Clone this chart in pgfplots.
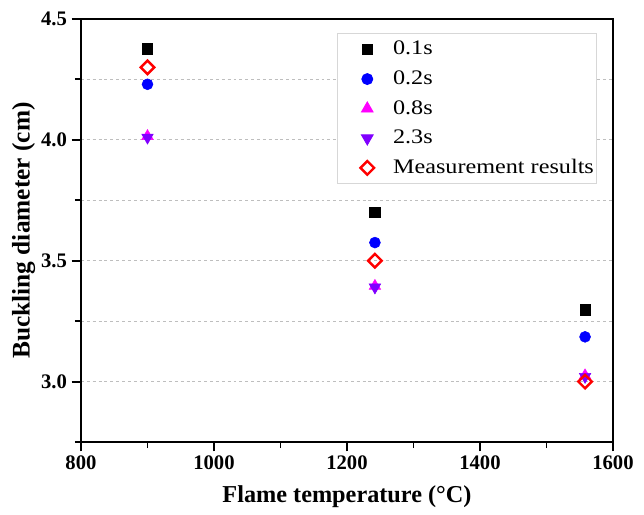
\documentclass[border=0pt]{standalone}
\usepackage{fontspec}
\setmainfont{Liberation Serif}
\newfontfamily\legserif[FakeStretch=1.17]{Liberation Serif}
\usepackage{pgfplots}
\pgfplotsset{compat=1.18}
\definecolor{violetc}{RGB}{128,0,255}
\definecolor{magc}{RGB}{255,0,255}
\definecolor{gridc}{RGB}{190,190,190}
\definecolor{legc}{RGB}{215,215,215}
\pgfplotsset{mylegimg/.style={legend image code/.code={\path (0pt,0pt) (39pt,0pt);\draw[mark repeat=2,mark phase=2,##1] plot coordinates {(0pt,0pt)(22pt,0pt)(39pt,0pt)};}}}
\begin{document}
\begin{tikzpicture}
\begin{axis}[
  scale only axis, width=399pt, height=317.25pt,
  clip=false,
  xmin=800, xmax=1600, ymin=2.75, ymax=4.5,
  xtick={800,1000,1200,1400,1600},
  minor xtick={900,1100,1300,1500},
  ytick={3.0,3.5,4.0,4.5},
  minor ytick={2.75,3.25,3.75,4.25},
  ymajorgrids, yminorgrids,
  major grid style={dash pattern=on 2.2pt off 2.2pt, gridc, line width=0.6pt},
  minor grid style={dash pattern=on 2.2pt off 2.2pt, gridc, line width=0.6pt},
  tick align=outside,
  major tick length=7pt, minor tick length=4.5pt,
  xtick pos=left, ytick pos=left,
  axis line style={black, line width=1.4pt},
  tick style={black, line width=1.4pt},
  /pgf/number format/assume math mode=true,
  yticklabel style={/pgf/number format/.cd, fixed, fixed zerofill, precision=1},
  xticklabel style={/pgf/number format/1000 sep={}},
  tick label style={font=\fontsize{15.5}{18}\selectfont\bfseries},
  xlabel={Flame temperature (°C)},
  ylabel={Buckling diameter (cm)},
  xlabel style={font=\fontsize{18.2}{21}\selectfont\bfseries, at={(rel axis cs:0.5,0)}, anchor=center, yshift=-41pt},
  ylabel style={font=\fontsize{19}{22}\selectfont\bfseries, at={(rel axis cs:0,0.5)}, anchor=center, yshift=43pt},
  legend cell align=left,
  legend style={at={(rel axis cs:1,1)}, anchor=north east, xshift=-12pt, yshift=-10.5pt,
    draw=legc, line width=0.7pt, inner xsep=0pt, inner ysep=5pt,
    font=\fontsize{15.5}{18}\legserif, row sep=8.2pt,
    nodes={inner ysep=0pt, text height=11pt, text depth=3pt}},
]
\pgfplotsinvokeforeach{800,1000,1200,1400,1600}{\draw[line width=1.4pt] (axis cs:#1,2.75) -- ++(0pt,-7pt);}
\pgfplotsinvokeforeach{900,1100,1300,1500}{\draw[line width=1.4pt] (axis cs:#1,2.75) -- ++(0pt,-4.5pt);}
\pgfplotsinvokeforeach{3.0,3.5,4.0,4.5}{\draw[line width=1.4pt] (axis cs:800,#1) -- ++(-7pt,0pt);}
\pgfplotsinvokeforeach{2.75,3.25,3.75,4.25}{\draw[line width=1.4pt] (axis cs:800,#1) -- ++(-4.5pt,0pt);}
\addplot[only marks, mylegimg, mark=square*, mark size=3.9pt, color=black] coordinates {(900,4.377) (1242,3.70) (1558,3.297)};
\addlegendentry{0.1s}
\addplot[only marks, mylegimg, mark=*, mark size=4.1pt, color=blue] coordinates {(900,4.23) (1242,3.575) (1558,3.185)};
\addlegendentry{0.2s}
\addplot[only marks, mylegimg, mark=triangle*, mark size=5pt, color=magc] coordinates {(900,4.015) (1242,3.395) (1558,3.025)};
\addlegendentry{0.8s}
\addplot[only marks, mylegimg, mark=triangle*, mark size=5pt, color=violetc, mark options={rotate=180}] coordinates {(900,4.01) (1242,3.39) (1558,3.02)};
\addlegendentry{2.3s}
\addplot[only marks, mylegimg, mark=square, mark size=3.6pt, color=red, mark options={rotate=45, line width=1.8pt, fill=white}] coordinates {(900,4.30) (1242,3.50) (1558,3.00)};
\addlegendentry{Measurement results}
\end{axis}
\path[use as bounding box] (-60.75pt,-54.75pt) rectangle (422.25pt,331.5pt);
\end{tikzpicture}
\end{document}
